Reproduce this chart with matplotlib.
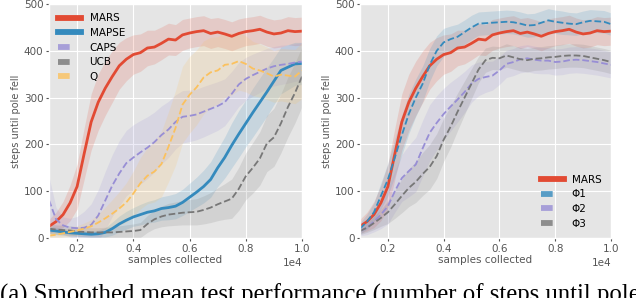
import numpy as np
import matplotlib
matplotlib.use('Agg')
import matplotlib.pyplot as plt
from matplotlib.lines import Line2D

plt.style.use('ggplot')

samples = np.arange(1000, 10001, 250)

mars_mean = [25,35,50,75,110,180,248,290,320,345,368,382,392,396,406,408,416,425,423,434,438,441,443,437,440,436,431,437,441,443,446,440,436,438,443,441,442]
mars_err = [15,20,28,38,48,55,60,60,58,55,50,46,42,40,38,36,35,34,33,33,32,32,32,32,31,31,31,31,30,30,30,30,30,30,30,30,30]

mapse_mean = [17,15,13,11,10,9,8,9,12,20,30,38,45,50,55,58,63,65,68,76,87,98,110,125,150,172,198,222,245,268,290,312,335,358,365,372,373]
mapse_err = [8,8,7,7,7,7,7,8,10,14,17,19,20,22,23,24,25,26,27,28,30,32,35,38,40,44,48,50,50,52,52,52,50,50,48,46,45]

caps_mean = [81,40,27,22,21,22,28,48,80,112,138,160,172,183,193,205,220,232,248,259,261,264,270,276,282,290,308,328,340,348,355,362,367,370,372,375,377]
caps_err = [50,25,18,20,25,35,45,55,62,66,70,70,70,68,66,64,62,60,58,56,55,54,54,53,52,50,48,47,46,45,44,43,42,42,41,40,40]

ucb_mean = [20,18,17,16,14,13,12,12,12,12,13,14,15,17,30,40,46,50,52,54,55,56,60,65,72,78,84,105,132,150,170,202,215,245,280,310,345]
ucb_err = [10,10,10,10,10,10,10,10,11,12,13,14,15,16,18,20,22,24,25,26,27,28,30,32,35,38,42,46,50,54,57,60,62,63,64,64,64]

q_mean = [5,7,10,13,16,20,25,33,42,52,63,76,95,117,133,142,158,195,235,285,306,322,343,354,358,370,372,378,372,362,358,352,345,349,347,345,358]
q_err = [6,7,8,9,10,12,14,18,24,30,36,42,48,55,60,65,70,75,80,82,82,80,78,75,72,70,66,62,60,58,57,56,55,56,57,58,60]

phi1_mean = [20,35,55,90,125,172,220,265,300,330,370,400,418,425,430,440,450,458,459,460,461,462,461,458,454,455,460,465,462,460,458,457,461,464,463,462,457]
phi1_err = [12,16,20,28,35,40,42,42,40,38,35,32,30,28,27,26,26,25,25,25,25,25,25,25,25,25,25,25,25,25,24,24,24,24,24,24,24]

phi2_mean = [15,22,35,50,68,100,128,143,157,192,225,246,265,281,296,312,330,340,344,347,358,372,376,382,384,381,379,379,376,377,380,381,380,378,376,373,370]
phi2_err = [10,15,22,30,38,45,50,55,58,60,60,58,55,52,48,44,40,36,33,31,30,29,29,29,29,29,28,28,28,28,28,28,28,28,28,28,28]

phi3_mean = [15,22,32,43,55,72,90,107,120,137,152,175,210,238,270,300,330,360,380,385,384,390,386,382,380,383,384,386,387,389,390,390,389,386,383,380,376]
phi3_err = [8,10,14,18,24,30,36,40,44,46,48,48,46,44,40,36,32,28,26,25,25,25,25,25,25,25,25,25,25,25,25,25,25,25,25,25,25]

RED, BLUE, PURPLE, GRAY, YELLOW = '#E24A33', '#348ABD', '#988ED5', '#777777', '#FBC15E'

left_series = [
    ('MARS', mars_mean, mars_err, RED, '-'),
    ('MAPSE', mapse_mean, mapse_err, BLUE, '-'),
    ('CAPS', caps_mean, caps_err, PURPLE, '--'),
    ('UCB', ucb_mean, ucb_err, GRAY, '--'),
    ('Q', q_mean, q_err, YELLOW, '--'),
]
right_series = [
    ('MARS', mars_mean, mars_err, RED, '-'),
    ('Φ1', phi1_mean, phi1_err, BLUE, '--'),
    ('Φ2', phi2_mean, phi2_err, PURPLE, '--'),
    ('Φ3', phi3_mean, phi3_err, GRAY, '--'),
]

fig = plt.figure(figsize=(6.36, 2.98), dpi=100)
axL = fig.add_axes([49/636, 60/298, 253/636, 234/298])
axR = fig.add_axes([360/636, 60/298, 251/636, 234/298])

def draw(ax, series, legend_loc, bbox):
    handles = []
    for name, m, e, c, ls in series:
        m = np.array(m, float); e = np.array(e, float)
        ax.fill_between(samples, m - e, m + e, color=c, alpha=0.17, lw=0)
    for name, m, e, c, ls in series:
        lw = 2.0 if ls == '-' else 1.3
        ax.plot(samples, m, color=c, ls=ls, lw=lw)
        if ls == '-':
            h = Line2D([], [], color=c, lw=4.2)
        else:
            h = Line2D([], [], color=c, lw=4.2, dashes=(2.0, 6.0), alpha=0.8)
        handles.append((h, name))
    ax.set_xlim(1000, 10000)
    ax.set_ylim(0, 500)
    ax.set_xticks([2000, 4000, 6000, 8000, 10000])
    ax.set_yticks([0, 100, 200, 300, 400, 500])
    ax.ticklabel_format(axis='x', style='sci', scilimits=(0, 0))
    ax.xaxis.get_offset_text().set_fontsize(7.5)
    ax.xaxis.get_offset_text().set_color('#555555')
    ax.tick_params(labelsize=7.5, length=2, pad=2, colors='#555555')
    ax.set_xlabel('samples collected', fontsize=7.5, labelpad=1, color='#555555')
    ax.set_ylabel('steps until pole fell', fontsize=7, labelpad=2, color='#555555')
    ax.grid(True, color='white', lw=0.8)
    leg = ax.legend([h for h, _ in handles], [n for _, n in handles], loc=legend_loc,
                    bbox_to_anchor=bbox, fontsize=7.5, frameon=False,
                    handlelength=2.2, labelspacing=0.45, handletextpad=0.8)
    for t in leg.get_texts():
        t.set_color('black')

draw(axL, left_series, 'upper left', (0.0, 1.0))
draw(axR, right_series, 'lower right', (1.0, 0.0))

fig.text(0.0, -0.012, '(a) Smoothed mean test performance (number of steps until pole',
         family=['Liberation Serif', 'DejaVu Serif'], fontsize=17.8, va='baseline', ha='left',
         color='black')

fig.savefig('out.png', dpi=100)
